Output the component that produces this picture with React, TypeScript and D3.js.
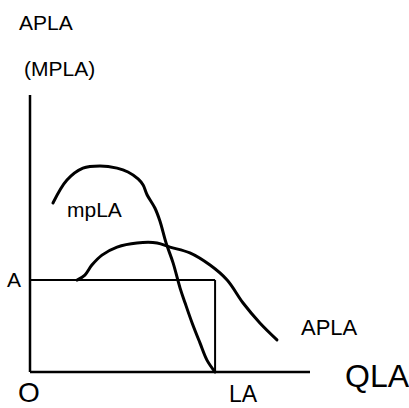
import React from "react";
import * as d3 from "d3";

const mpX = [8.2, 13.2, 18.9, 25, 31.1, 35, 38.6, 40.4, 41.8, 44.6, 46.4, 48.6, 51.1, 53.6, 55.4, 57.9, 60.7, 63.2, 66.1];
const mpY = [61, 69.3, 73.6, 74.4, 73.6, 72.2, 69.7, 67.5, 64, 59.2, 54.5, 46.6, 39.4, 30.3, 24.9, 17.7, 10.5, 4.3, 0];
const apX = [16.8, 19.6, 22.1, 25.7, 31.1, 38.2, 45.4, 50, 57.1, 64.3, 70.4, 76.1, 82.1, 88.2];
const apY = [33.2, 35, 38.6, 42.2, 45.1, 46.6, 46.6, 45.1, 43, 38.6, 33.2, 24.9, 17.7, 11.6];
const levelA = 33.2;
const levelLA = 66.1;
const xMax = 100;
const yMax = 100;

export default function App() {
  const W = 409, H = 408;
  const x = d3.scaleLinear().domain([0, xMax]).range([30, 310]);
  const y = d3.scaleLinear().domain([0, yMax]).range([372, 95]);
  const line = d3
    .line<[number, number]>()
    .x((d) => x(d[0]))
    .y((d) => y(d[1]))
    .curve(d3.curveCatmullRom);
  const mp = mpX.map((v, i) => [v, mpY[i]] as [number, number]);
  const ap = apX.map((v, i) => [v, apY[i]] as [number, number]);
  const font = "'Liberation Sans', Arial, sans-serif";
  return (
    <svg
      width={W}
      height={H}
      style={{ position: "absolute", left: 0, top: 0, background: "#fff" }}
      fontFamily={font}
    >
      <rect width={W} height={H} fill="#fff" />
      {/* axes */}
      <line x1={x(0)} y1={y(yMax)} x2={x(0)} y2={y(0)} stroke="#000" strokeWidth={2.5} />
      <line x1={x(0)} y1={y(0)} x2={x(xMax)} y2={y(0)} stroke="#000" strokeWidth={2.5} />
      {/* rectangle */}
      <line x1={x(0)} y1={y(levelA)} x2={x(levelLA)} y2={y(levelA)} stroke="#000" strokeWidth={2} />
      <line x1={x(levelLA)} y1={y(levelA)} x2={x(levelLA)} y2={y(0)} stroke="#000" strokeWidth={2} />
      {/* curves */}
      <path d={line(mp) || ""} fill="none" stroke="#000" strokeWidth={3} strokeLinecap="round" />
      <path d={line(ap) || ""} fill="none" stroke="#000" strokeWidth={3} strokeLinecap="round" />
      {/* labels */}
      <text x={19} y={30} fontSize={21}>APLA</text>
      <text x={24} y={76} fontSize={21}>(MPLA)</text>
      <text x={67} y={217} fontSize={21}>mpLA</text>
      <text x={7} y={287} fontSize={21}>A</text>
      <text x={301} y={335} fontSize={22}>APLA</text>
      <text x={345} y={387} fontSize={32}>QLA</text>
      <text x={18} y={402} fontSize={28}>O</text>
      <text x={229} y={402} fontSize={23}>LA</text>
    </svg>
  );
}
